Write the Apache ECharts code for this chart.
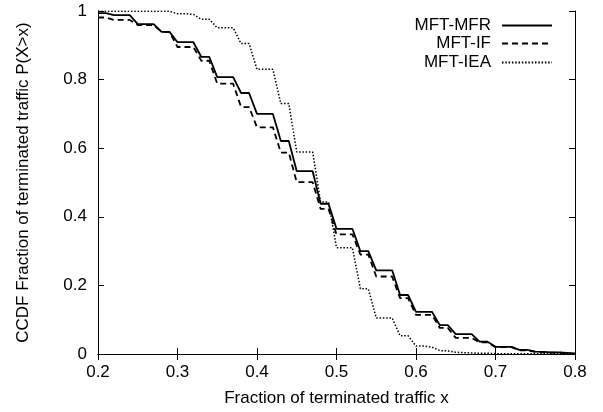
<!DOCTYPE html>
<html>
<head>
<meta charset="utf-8">
<script src="https://cdn.jsdelivr.net/npm/echarts@6/dist/echarts.min.js"></script>
<style>html,body{margin:0;padding:0;background:#fff;}#c{width:603px;height:412px;}</style>
</head>
<body>
<div id="c"></div>
<script>
var xs = [0.20,0.21,0.22,0.23,0.24,0.25,0.26,0.27,0.28,0.29,
          0.30,0.31,0.32,0.33,0.34,0.35,0.36,0.37,0.38,0.39,
          0.40,0.41,0.42,0.43,0.44,0.45,0.46,0.47,0.48,0.49,
          0.50,0.51,0.52,0.53,0.54,0.55,0.56,0.57,0.58,0.59,
          0.60,0.61,0.62,0.63,0.64,0.65,0.66,0.67,0.68,0.69,
          0.70,0.71,0.72,0.73,0.74,0.75,0.76,0.77,0.78,0.79,0.80];
var mfr = [0.994,0.994,0.988,0.988,0.988,0.962,0.962,0.962,0.939,0.939,
           0.909,0.909,0.909,0.866,0.866,0.807,0.807,0.807,0.761,0.761,
           0.700,0.700,0.700,0.621,0.621,0.533,0.533,0.533,0.438,0.438,
           0.365,0.365,0.365,0.300,0.300,0.244,0.244,0.244,0.172,0.172,
           0.123,0.123,0.123,0.084,0.084,0.058,0.058,0.058,0.036,0.036,
           0.021,0.021,0.021,0.012,0.012,0.007,0.006,0.005,0.005,0.003,0.001];
var mif = [0.981,0.981,0.974,0.974,0.974,0.959,0.959,0.959,0.939,0.939,
           0.895,0.895,0.895,0.855,0.855,0.788,0.788,0.788,0.720,0.720,
           0.661,0.661,0.661,0.587,0.587,0.501,0.501,0.501,0.423,0.423,
           0.349,0.349,0.349,0.290,0.290,0.226,0.226,0.226,0.163,0.163,
           0.114,0.114,0.114,0.076,0.076,0.047,0.047,0.047,0.034,0.034,
           0.020,0.020,0.020,0.011,0.011,0.006,0.005,0.004,0.004,0.002,0.001];
var iea = [0.999,0.999,0.999,0.999,0.999,0.999,0.999,0.999,0.999,0.999,
           0.992,0.992,0.990,0.976,0.976,0.951,0.951,0.951,0.905,0.905,
           0.830,0.830,0.830,0.730,0.730,0.589,0.589,0.589,0.443,0.443,
           0.310,0.310,0.310,0.190,0.190,0.105,0.105,0.105,0.053,0.053,
           0.023,0.023,0.020,0.010,0.009,0.005,0.004,0.003,0.002,0.002,
           0.001,0.001,0.001,0.001,0.001,0.001,0.001,0.001,0.001,0.001,0.000];
var seriesNames = ['MFT-MFR','MFT-IF','MFT-IEA'];
var xTickLabels = ['0.2','0.3','0.4','0.5','0.6','0.7','0.8'];
var yTickLabels = ['0','0.2','0.4','0.6','0.8','1'];

var FONT = '"Liberation Sans", Arial, sans-serif';
function pairs(v){ return xs.map(function(x,i){ return [x, v[i]]; }); }

var chart = echarts.init(document.getElementById('c'), null, {renderer:'canvas'});
var axisCommon = {
  axisLine:{show:true, lineStyle:{color:'#000', width:1}},
  axisTick:{show:true, inside:true, length:6, lineStyle:{color:'#000', width:1}},
  splitLine:{show:false}
};
function legendFor(name, top){
  return {
    data:[name], right:50, top:top, orient:'vertical', align:'right',
    padding:0, itemWidth:50, itemHeight:10,
    itemStyle:{opacity:0, borderWidth:0},
    textStyle:{fontFamily:FONT, fontSize:17, color:'#000', lineHeight:17, padding:[0,6,0,0]},
    selectedMode:false
  };
}
chart.setOption({
  animation:false,
  backgroundColor:'#fff',
  grid:{left:98, right:28, top:11, bottom:57, containLabel:false},
  legend:[legendFor(seriesNames[0],17), legendFor(seriesNames[1],35), legendFor(seriesNames[2],54)],
  xAxis:[
    Object.assign({type:'value', position:'bottom', min:0.2, max:0.8, interval:0.1,
      name:'Fraction of terminated traffic x', nameLocation:'middle', nameGap:36,
      nameTextStyle:{fontFamily:FONT, fontSize:17, color:'#000'},
      axisLabel:{fontFamily:FONT, fontSize:17, color:'#000', margin:10,
        formatter:function(v){ var i=Math.round((v-0.2)/0.1); return xTickLabels[i]; }}
    }, axisCommon),
    Object.assign({type:'value', position:'top', min:0.2, max:0.8, interval:0.1,
      axisLabel:{show:false}}, axisCommon)
  ],
  yAxis:[
    Object.assign({type:'value', position:'left', min:0, max:1, interval:0.2,
      name:'CCDF Fraction of terminated traffic P(X>x)', nameLocation:'middle', nameGap:66,
      nameTextStyle:{fontFamily:FONT, fontSize:17, color:'#000'},
      axisLabel:{fontFamily:FONT, fontSize:17, color:'#000', margin:11,
        formatter:function(v){ var i=Math.round(v/0.2); return yTickLabels[i]; }}
    }, axisCommon),
    Object.assign({type:'value', position:'right', min:0, max:1, interval:0.2,
      axisLabel:{show:false}}, axisCommon)
  ],
  series:[
    {name:seriesNames[0], type:'line', data:pairs(mfr), symbol:'none', xAxisIndex:0, yAxisIndex:0,
      lineStyle:{color:'#000', width:1.8, type:'solid'}, itemStyle:{color:'#000'}},
    {name:seriesNames[1], type:'line', data:pairs(mif), symbol:'none', xAxisIndex:0, yAxisIndex:0,
      lineStyle:{color:'#000', width:1.8, type:[6,4]}, itemStyle:{color:'#000'}},
    {name:seriesNames[2], type:'line', data:pairs(iea), symbol:'none', xAxisIndex:0, yAxisIndex:0,
      lineStyle:{color:'#000', width:1.5, type:[1.5,1.8]}, itemStyle:{color:'#000'}}
  ]
});
</script>
</body>
</html>
